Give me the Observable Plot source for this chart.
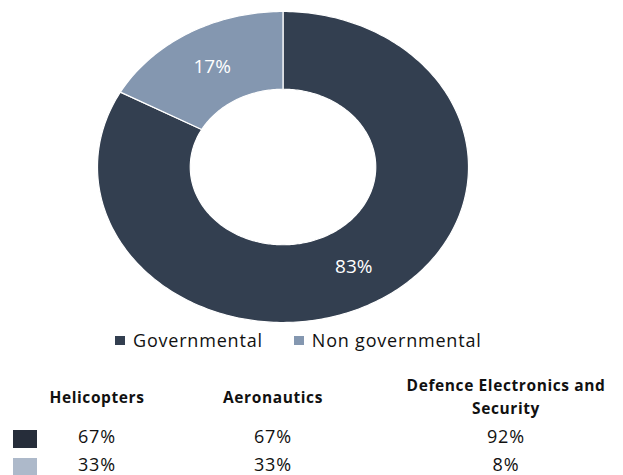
<!DOCTYPE html>
<html>
<head>
<meta charset="utf-8">
<script src="https://cdn.jsdelivr.net/npm/d3@7"></script>
<script src="https://cdn.jsdelivr.net/npm/@observablehq/plot@0.6"></script>
<style>
  html, body { margin: 0; padding: 0; background: #fff; }
  #wrap { position: relative; width: 623px; height: 475px; overflow: hidden; font-family: "Open Sans", sans-serif; }
  #chart { position: absolute; left: 0; top: 0; }
  #legend { position: absolute; left: 115px; top: 328px; display: flex; align-items: center; font-size: 18px; letter-spacing: 0.8px; color: #111; white-space: nowrap; }
  #legend .item { display: flex; align-items: center; margin-right: 31px; }
  #legend .sw { width: 10px; height: 9px; margin-right: 8px; }
  .hdr { position: absolute; top: 374px; height: 46px; display: flex; align-items: center; justify-content: center; text-align: center; font-weight: bold; font-size: 15.5px; letter-spacing: 0.6px; line-height: 23px; color: #111; }
  .val { position: absolute; width: 120px; text-align: center; font-size: 18px; letter-spacing: 0.9px; color: #111; }
  .tsw { position: absolute; left: 13px; width: 24px; height: 18px; }
</style>
</head>
<body>
<div id="wrap">
  <div id="chart"></div>
  <div id="legend"></div>
</div>
<script>
// ---- data ----
const categories = ["Governmental", "Non governmental"];
const shares = [83, 17];
const sliceColors = ["#333F50", "#8497B0"];

const sectors = ["Helicopters", "Aeronautics", "Defence Electronics and Security"];
const governmentalBySector = [67, 67, 92];
const nonGovernmentalBySector = [33, 33, 8];
const tableColors = ["#262D3A", "#ADB9CA"];

// ---- donut geometry from data ----
const total = d3.sum(shares);
const innerR = 0.5, outerR = 1, labelR = 0.75;
const polys = [];
const labels = [];
let acc = 0;
shares.forEach((v, i) => {
  const a0 = acc / total * 2 * Math.PI;
  const a1 = (acc + v) / total * 2 * Math.PI;
  acc += v;
  const n = Math.max(8, Math.ceil((a1 - a0) / (Math.PI / 180)));
  for (let k = 0; k <= n; k++) {
    const t = a0 + (a1 - a0) * k / n;
    polys.push({category: categories[i], x: outerR * Math.sin(t), y: outerR * Math.cos(t)});
  }
  for (let k = n; k >= 0; k--) {
    const t = a0 + (a1 - a0) * k / n;
    polys.push({category: categories[i], x: innerR * Math.sin(t), y: innerR * Math.cos(t)});
  }
  const m = (a0 + a1) / 2;
  labels.push({category: categories[i], x: labelR * Math.sin(m), y: labelR * Math.cos(m), text: v + "%"});
});

const plot = Plot.plot({
  width: 623,
  height: 330,
  marginLeft: 97,
  marginRight: 155,
  marginTop: 11,
  marginBottom: 8,
  x: {domain: [-1, 1], axis: null},
  y: {domain: [-1, 1], axis: null},
  color: {domain: categories, range: sliceColors},
  style: {fontFamily: "Open Sans, sans-serif", background: "white"},
  marks: [
    Plot.line(polys, {x: "x", y: "y", z: "category", fill: "category", stroke: "white", strokeWidth: 1.2, curve: "linear-closed"}),
    Plot.text(labels, {x: "x", y: "y", text: "text", fill: "white", fontSize: 19, letterSpacing: 1.3 })
  ]
});
document.getElementById("chart").appendChild(plot);

// ---- legend ----
const legend = document.getElementById("legend");
categories.forEach((c, i) => {
  const item = document.createElement("div");
  item.className = "item";
  const sw = document.createElement("span");
  sw.className = "sw";
  sw.style.background = sliceColors[i];
  const tx = document.createElement("span");
  tx.textContent = c;
  item.appendChild(sw); item.appendChild(tx);
  legend.appendChild(item);
});

// ---- table ----
const wrap = document.getElementById("wrap");
const colCenters = [97, 273, 506];
const colWidths = [150, 150, 225];
sectors.forEach((s, j) => {
  const h = document.createElement("div");
  h.className = "hdr";
  h.style.left = (colCenters[j] - colWidths[j] / 2) + "px";
  h.style.width = colWidths[j] + "px";
  h.textContent = s;
  wrap.appendChild(h);
});
const rows = [governmentalBySector, nonGovernmentalBySector];
const rowTops = [424, 452];
rows.forEach((row, r) => {
  const sw = document.createElement("div");
  sw.className = "tsw";
  sw.style.top = (rowTops[r] + 6) + "px";
  sw.style.background = tableColors[r];
  wrap.appendChild(sw);
  row.forEach((v, j) => {
    const d = document.createElement("div");
    d.className = "val";
    d.style.left = (colCenters[j] - 60) + "px";
    d.style.top = rowTops[r] + "px";
    d.textContent = v + "%";
    wrap.appendChild(d);
  });
});
</script>
</body>
</html>
